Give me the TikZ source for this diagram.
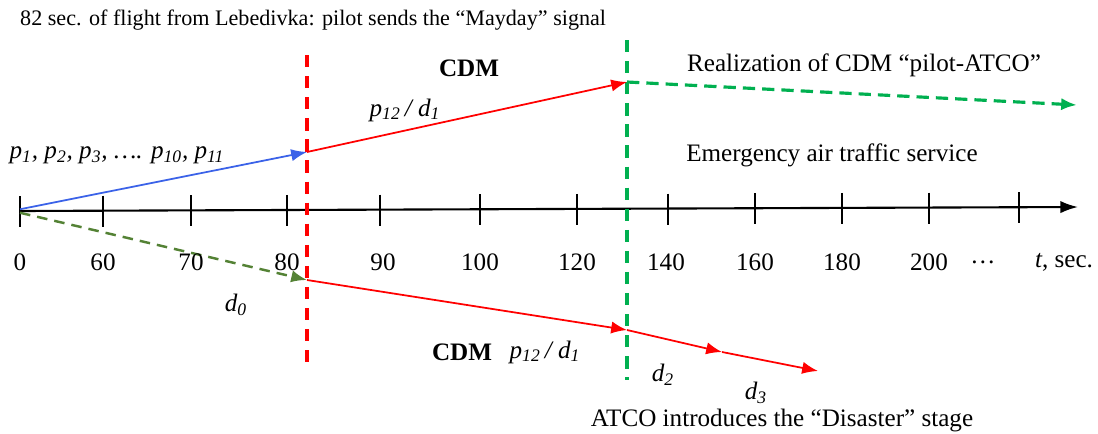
\documentclass[tikz,border=0pt]{standalone}
\usepackage{fontspec}
\setmainfont{Liberation Serif}
\usetikzlibrary{arrows.meta}

\definecolor{pilotblue}{RGB}{59,98,232}
\definecolor{cdmred}{RGB}{255,0,0}
\definecolor{atcogreen}{RGB}{0,176,80}
\definecolor{olivegreen}{RGB}{84,130,53}

\begin{document}
\begin{tikzpicture}[x=0.02cm, y=-0.02cm, font=\fontsize{14.3}{16}\selectfont,
    headarrow/.style={-{Latex[length=9pt,width=7pt]}},
    flowline/.style={line width=1pt, headarrow},
    stageline/.style={line width=1.8pt, dash pattern=on 7pt off 5pt}]
    \useasboundingbox (0,0) rectangle (1098,433);

    \coordinate (origin) at (20,211);
    \coordinate (axisEnd) at (1078,207);
    \coordinate (maydayTop) at (307,152);
    \coordinate (maydayBot) at (307,280);
    \coordinate (atcoTop) at (627,82);
    \coordinate (atcoBot) at (627,330);
    \coordinate (realEnd) at (1077,105);
    \coordinate (dTwoEnd) at (722,352);
    \coordinate (dThreeEnd) at (818,371);

    \coordinate (redA) at (307,55);
    \coordinate (redB) at (307,368);
    \coordinate (greenA) at (627,40);
    \coordinate (greenB) at (627,380);

    % Draw
    \draw[line width=1.2pt, -{Latex[length=10pt,width=7pt]}] (origin) -- (axisEnd);
    \foreach \x in {20,103,191,287,380,480,577,668,755,842,929,1019}{
        \pgfmathsetmacro\ty{211-4*(\x-20)/1058}
        \draw[line width=1pt] (\x,\ty-15) -- (\x,\ty+16);
    }

    \draw[stageline, cdmred] (redA) -- (redB);
    \draw[stageline, atcogreen] (greenA) -- (greenB);

    \draw[flowline, pilotblue] ([yshift=1pt]origin) -- (maydayTop);
    \draw[flowline, cdmred] (maydayTop) -- (atcoTop);
    \draw[line width=1.8pt, atcogreen, dash pattern=on 7pt off 4pt, headarrow] (atcoTop) -- (realEnd);

    \draw[line width=1.4pt, olivegreen, dash pattern=on 6pt off 4pt, headarrow] ([yshift=-1pt]origin) -- (maydayBot);
    \draw[flowline, cdmred] (maydayBot) -- (atcoBot);
    \draw[flowline, cdmred] (atcoBot) -- (dTwoEnd);
    \draw[flowline, cdmred] (dTwoEnd) -- (dThreeEnd);

    % Labeling
    \foreach \x/\lab in {20/0,103/60,191/70,287/80,383/90,480/100,577/120,666/140,755/160,842/180,929/200,983/\dots}
        \node (tick\x) at (\x,262) {\lab};
    \node (tlabel) at (1064,262) {\textit{t}, sec.};

    \node[anchor=west, font=\fontsize{12.6}{14}\selectfont] (title) at (14,20) {82 sec. of flight from Lebedivka: pilot sends the “Mayday” signal};
    \node (cdmTop) at (469,68) {\textbf{CDM}};
    \node (pTop) at (405,110) {\textit{p\textsubscript{12}\,/ d\textsubscript{1}}};
    \node (pList) at (117,155) {\textit{p\textsubscript{1}, p\textsubscript{2}, p\textsubscript{3}, …. p\textsubscript{10}, p\textsubscript{11}}};
    \node (realization) at (864,65) {Realization of CDM “pilot-ATCO”};
    \node (emergency) at (832,155) {Emergency air traffic service};
    \node (dZero) at (236,305) {\textit{d\textsubscript{0}}};
    \node (cdmBot) at (462,352) {\textbf{CDM}};
    \node (pBot) at (545,352) {\textit{p\textsubscript{12}\,/ d\textsubscript{1}}};
    \node (dTwo) at (663,375) {\textit{d\textsubscript{2}}};
    \node[inner sep=0.5pt] (dThree) at (756,393) {\textit{d\textsubscript{3}}};
    \node[inner sep=0.5pt] (disaster) at (782,420) {ATCO introduces the “Disaster” stage};
\end{tikzpicture}
\end{document}
